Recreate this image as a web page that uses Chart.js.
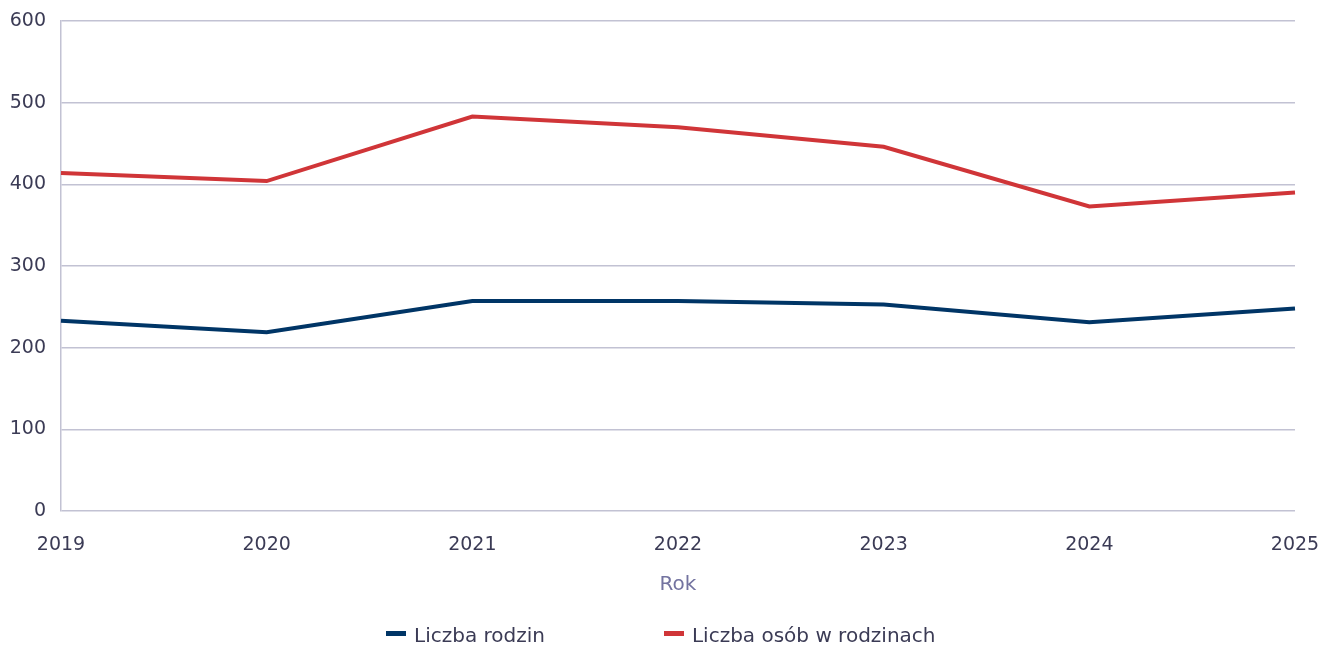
<!DOCTYPE html>
<html>
<head>
<meta charset="utf-8">
<script src="https://cdn.jsdelivr.net/npm/chart.js@4/dist/chart.umd.min.js"></script>
<style>
  html, body { margin: 0; padding: 0; background: #fff; }
  #wrap { position: relative; width: 1319px; height: 645px; }
  #wrap canvas { position: absolute; left: 0; top: 0; }
  #legend { position: absolute; left: 386px; top: 623px; display: flex; gap: 119px;
            font-family: "DejaVu Sans", sans-serif; font-size: 20px; line-height: 24px; color: #3b3b55; }
  .item { display: flex; align-items: flex-start; }
  .box { width: 20px; height: 5px; margin-top: 8px; margin-right: 8px; }
</style>
</head>
<body>
<div id="wrap">
  <canvas id="c" width="1319" height="645"></canvas>
  <div id="legend"></div>
</div>
<script>
const years = ['2019', '2020', '2021', '2022', '2023', '2024', '2025'];
const families = [233, 219, 257, 257, 253, 231, 248];
const persons = [414, 404, 483, 470, 446, 373, 390];
const seriesNames = ['Liczba rodzin', 'Liczba osób w rodzinach'];
const yTicks = [0, 100, 200, 300, 400, 500, 600];
const axisTitle = 'Rok';

const textColor = '#3b3b55';
const gridColor = '#c2c2d3';
const colors = ['#003566', '#d03538'];

const chart = new Chart(document.getElementById('c'), {
  type: 'line',
  data: {
    labels: years,
    datasets: [
      { label: seriesNames[0], data: families, borderColor: colors[0], backgroundColor: colors[0],
        borderWidth: 4, pointRadius: 0, tension: 0 },
      { label: seriesNames[1], data: persons, borderColor: colors[1], backgroundColor: colors[1],
        borderWidth: 4, pointRadius: 0, tension: 0 }
    ]
  },
  options: {
    responsive: false,
    animation: false,
    layout: { padding: { left: 0, right: 24, top: 21, bottom: 46 } },
    plugins: { legend: { display: false }, tooltip: { enabled: false } },
    scales: {
      x: {
        offset: false,
        grid: { display: false, drawTicks: false },
        border: { display: false },
        ticks: { color: textColor, padding: 23, maxRotation: 0, autoSkip: false,
                 font: { family: 'DejaVu Sans', size: 19 } },
        title: { display: true, text: axisTitle, color: '#7373a0', padding: { top: 4, bottom: 2 },
                 font: { family: 'DejaVu Sans', size: 20 } },
        afterFit: s => { s.height = 88; s.paddingLeft = 0; s.paddingRight = 0; }
      },
      y: {
        min: 0, max: 600,
        afterBuildTicks: s => { s.ticks = yTicks.map(v => ({ value: v })); },
        grid: { color: gridColor, lineWidth: 1.5, drawTicks: false },
        border: { display: true, color: gridColor, width: 1.5 },
        ticks: { color: textColor, padding: 15, font: { family: 'DejaVu Sans', size: 19 } },
        afterFit: s => { s.width = 61; s.paddingTop = 0; s.paddingBottom = 0; }
      }
    }
  }
});

const legend = document.getElementById('legend');
chart.data.datasets.forEach(ds => {
  const item = document.createElement('div');
  item.className = 'item';
  const box = document.createElement('span');
  box.className = 'box';
  box.style.background = ds.borderColor;
  const txt = document.createElement('span');
  txt.textContent = ds.label;
  item.appendChild(box);
  item.appendChild(txt);
  legend.appendChild(item);
});
</script>
</body>
</html>
